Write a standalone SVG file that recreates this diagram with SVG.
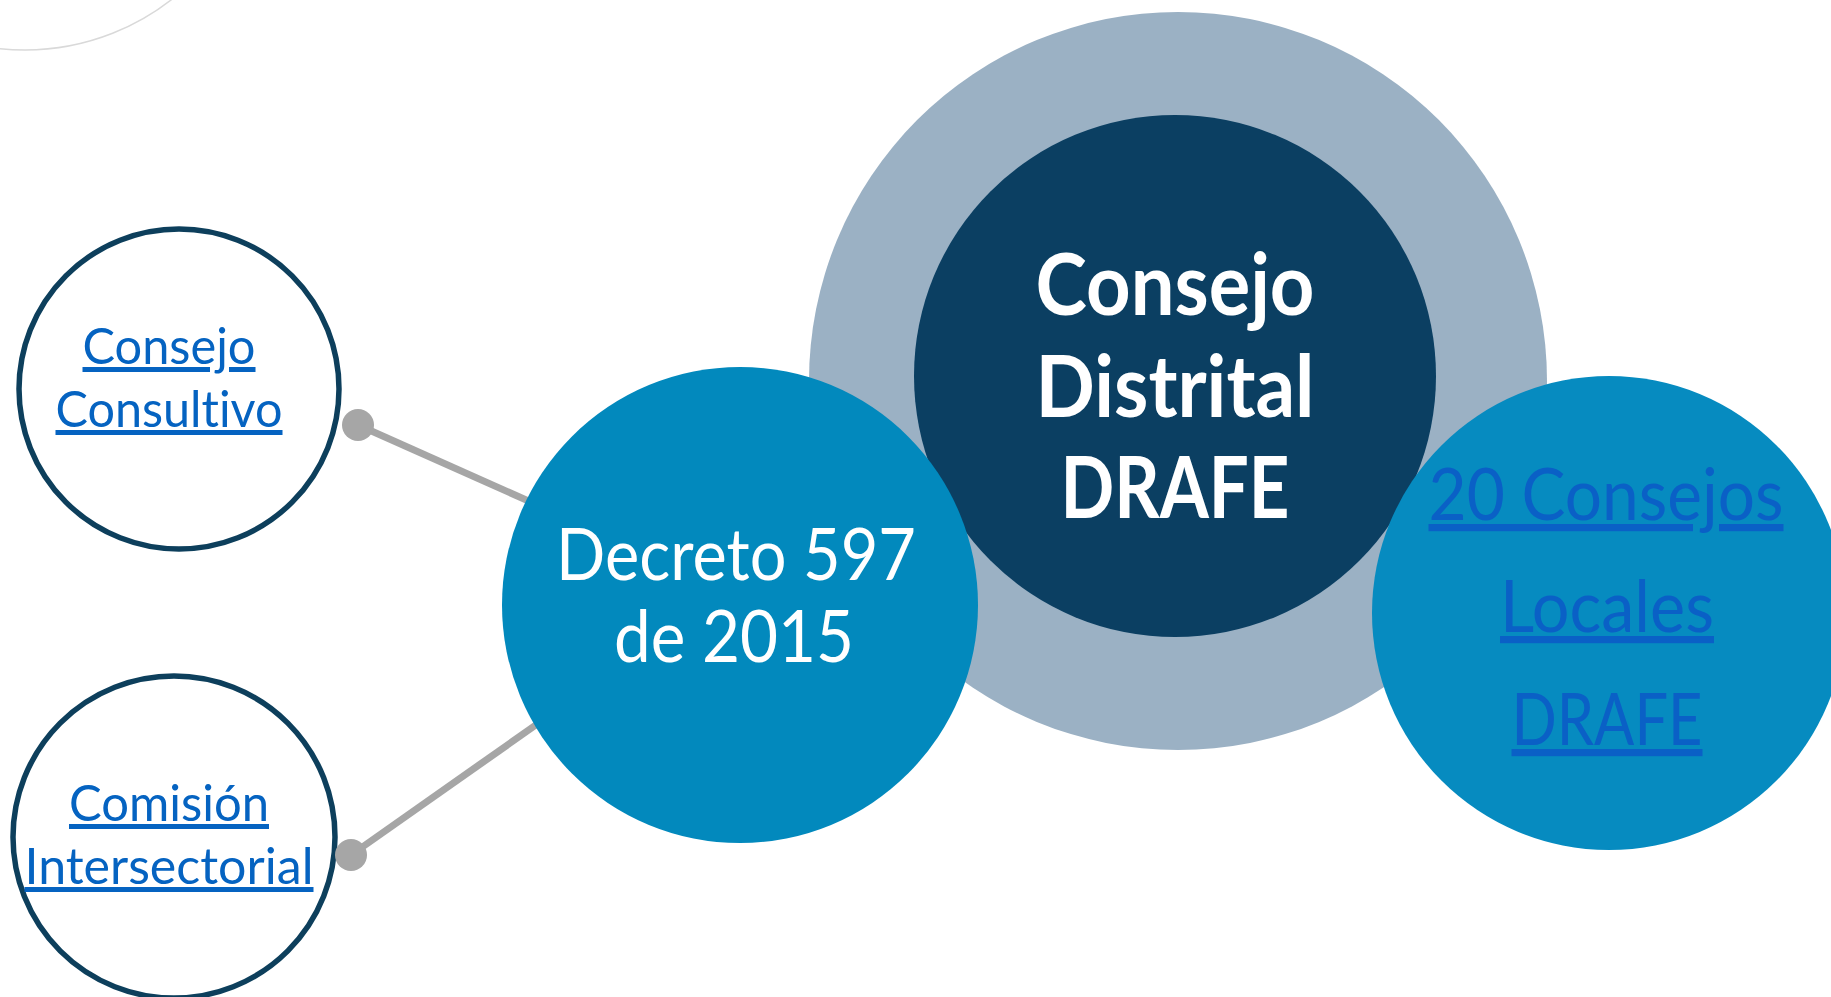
<svg xmlns="http://www.w3.org/2000/svg" width="1831" height="997" viewBox="0 0 1831 997">
<style>
text{font-variant-ligatures:none;font-feature-settings:"liga" 0;}
.lnk{font-family:Lato,"Open Sans","Liberation Sans",sans-serif;fill:#0563c1;text-decoration:underline;text-anchor:middle;}
.wt{font-family:Lato,"Open Sans","Liberation Sans",sans-serif;fill:#ffffff;text-anchor:middle;}
.conn{stroke:#a6a6a6;stroke-width:7;fill:none;}
.dot{fill:#a6a6a6;}
.ring{fill:#ffffff;stroke:#0d3f5c;stroke-width:5.5;}
</style>
<rect width="1831" height="997" fill="#ffffff"/>
<circle cx="25" cy="-188" r="238" fill="none" stroke="#d9d9d9" stroke-width="1.5"/>
<g id="connectors">
<line class="conn" x1="358" y1="425" x2="560" y2="515"/>
<line class="conn" x1="351" y1="855" x2="560" y2="708"/>
</g>
<g id="drafe">
<circle cx="1178" cy="381" r="369" fill="#9bb1c4"/>
<circle cx="1175" cy="376" r="261" fill="#0b3f62"/>
<text class="wt" font-weight="bold" font-size="86"><tspan x="1175" y="315" textLength="279" lengthAdjust="spacingAndGlyphs">Consejo</tspan><tspan x="1175" y="417" textLength="279" lengthAdjust="spacingAndGlyphs">Distrital</tspan><tspan x="1175" y="518" textLength="229" lengthAdjust="spacingAndGlyphs">DRAFE</tspan></text>
</g>
<g id="decreto">
<circle cx="740" cy="605" r="238" fill="#0289bd"/>
<text class="wt" font-size="72"><tspan x="736" y="580" textLength="360" lengthAdjust="spacingAndGlyphs">Decreto 597</tspan><tspan x="734" y="662" textLength="240" lengthAdjust="spacingAndGlyphs">de 2015</tspan></text>
</g>
<g id="locales">
<circle cx="1609" cy="613" r="237" fill="#068bc0"/>
<text class="lnk" font-size="72" style="fill:#0a60c6"><tspan x="1606" y="520" textLength="355" lengthAdjust="spacingAndGlyphs">20 Consejos</tspan><tspan x="1607" y="632" textLength="214" lengthAdjust="spacingAndGlyphs">Locales</tspan><tspan x="1607" y="745" textLength="191" lengthAdjust="spacingAndGlyphs">DRAFE</tspan></text>
</g>
<g id="consultivo">
<circle class="ring" cx="179" cy="389" r="160"/>
<text class="lnk" font-size="50"><tspan x="169" y="364" textLength="173" lengthAdjust="spacingAndGlyphs">Consejo</tspan><tspan x="169" y="427" textLength="227" lengthAdjust="spacingAndGlyphs">Consultivo</tspan></text>
<circle class="dot" cx="358" cy="425" r="16"/>
</g>
<g id="comision">
<circle class="ring" cx="174" cy="837" r="161"/>
<text class="lnk" font-size="50"><tspan x="169" y="821" textLength="200" lengthAdjust="spacingAndGlyphs">Comisión</tspan><tspan x="169" y="884" textLength="289" lengthAdjust="spacingAndGlyphs">Intersectorial</tspan></text>
<circle class="dot" cx="351" cy="855" r="16"/>
</g>
</svg>
